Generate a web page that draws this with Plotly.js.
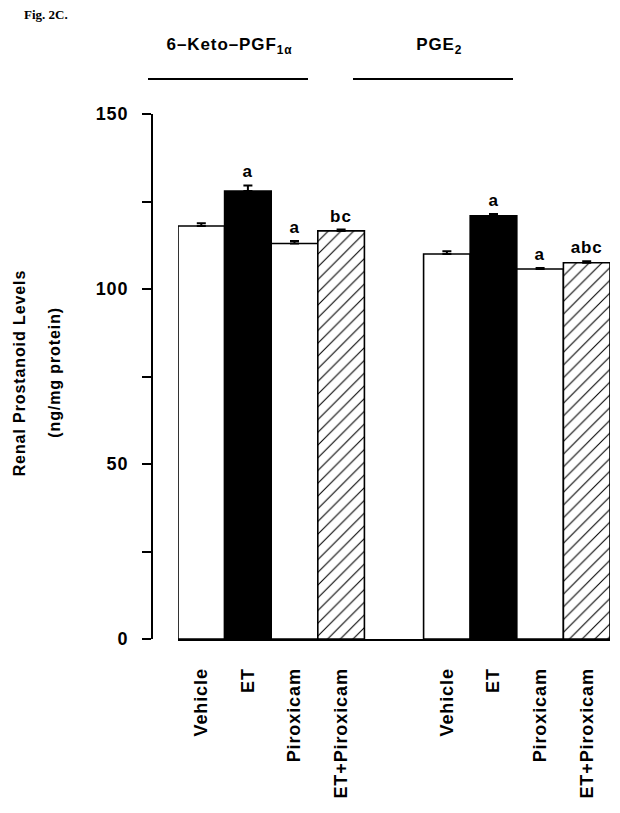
<!DOCTYPE html>
<html>
<head>
<meta charset="utf-8">
<script src="https://cdn.plot.ly/plotly-3.0.1.min.js"></script>
<style>
html,body{margin:0;padding:0;background:#fff;}
#chart{width:620px;height:813px;}
#chart svg text{letter-spacing:0.9px !important;}
#chart svg text.figlabel, #chart .figlabel text{letter-spacing:0 !important;}
</style>
</head>
<body>
<div id="chart"></div>
<script>
// ---- data ----
var groups = ["6\u2013Keto\u2013PGF<sub>1\u03b1</sub>", "PGE<sub>2</sub>"];
var treatments = ["Vehicle", "ET", "Piroxicam", "ET+Piroxicam"];
var ketoValues = [118.0, 128.0, 113.0, 116.6];
var ketoErrors = [0.8, 1.6, 0.7, 0.4];
var ketoLetters = ["", "a", "a", "bc"];
var pgeValues = [110.0, 120.9, 105.7, 107.5];
var pgeErrors = [0.8, 0.5, 0.3, 0.4];
var pgeLetters = ["", "a", "a", "abc"];
var yTicks = [0, 50, 100, 150];
var yMinorTicks = [25, 75, 125];

var FONT = "Liberation Sans, Arial, sans-serif";
var groupGap = 1.27;           // gap between the two groups, in bar widths
function xPos(g, i) { return i + g * (treatments.length + groupGap); }

var series = [
  {vals: ketoValues, errs: ketoErrors, letters: ketoLetters},
  {vals: pgeValues, errs: pgeErrors, letters: pgeLetters}
];
var fills = ["#ffffff", "#000000", "#ffffff", "#ffffff"];
var patterns = ["", "", "", "/"];

var traces = [];
var annotations = [];
var tickvals = [], ticktext = [];
series.forEach(function (s, g) {
  treatments.forEach(function (t, i) {
    var x = xPos(g, i);
    tickvals.push(x); ticktext.push("<b>" + t + "</b>");
    traces.push({
      type: "bar",
      x: [x], y: [s.vals[i]], width: 1,
      marker: {
        color: fills[i],
        line: {color: "#000", width: 1.6},
        pattern: patterns[i] ? {shape: patterns[i], fgcolor: "#000", bgcolor: "#fff", size: 9, solidity: 0.12} : undefined
      },
      error_y: {type: "data", symmetric: false, array: [s.errs[i]], arrayminus: [0], color: "#000", thickness: 2, width: 4.5},
      showlegend: false, hoverinfo: "skip"
    });
    if (s.letters[i]) {
      annotations.push({
        x: x, y: s.vals[i] + s.errs[i], xref: "x", yref: "y",
        text: "<b>" + s.letters[i] + "</b>", showarrow: false, yanchor: "bottom", yshift: 2,
        font: {family: FONT, size: 17, color: "#000"}
      });
    }
  });
});

// layout geometry (pixels)
var L = 140, R = 10, T = 114, B = 174, W = 620, H = 813;
var pw = W - L - R, ph = H - T - B;
function px(xp) { return (xp - L) / pw; }
function py(yp) { return (H - B - yp) / ph; }

// group headers
var headerSpans = [[148, 308, 230], [353, 513, 439]];
var shapes = [];
groups.forEach(function (gname, g) {
  var h = headerSpans[g];
  shapes.push({type: "line", xref: "paper", yref: "paper", x0: px(h[0]), x1: px(h[1]), y0: py(79), y1: py(79), line: {color: "#000", width: 2}});
  annotations.push({xref: "paper", yref: "paper", x: px(h[2]), y: py(46), text: "<b>" + gname + "</b>", showarrow: false,
    xanchor: "center", yanchor: "middle", font: {family: FONT, size: 17, color: "#000"}});
});

// y-axis titles
annotations.push({xref: "paper", yref: "paper", x: px(19), y: py(373), text: "<b>Renal Prostanoid Levels</b>", textangle: -90,
  showarrow: false, xanchor: "center", yanchor: "middle", font: {family: FONT, size: 16, color: "#000"}});
annotations.push({xref: "paper", yref: "paper", x: px(54), y: py(373), text: "<b>(ng/mg protein)</b>", textangle: -90,
  showarrow: false, xanchor: "center", yanchor: "middle", font: {family: FONT, size: 16, color: "#000"}});
// figure label
annotations.push({xref: "paper", yref: "paper", x: px(22), y: py(15), text: "<b>Fig. 2C.</b>", showarrow: false,
  xanchor: "left", yanchor: "middle", font: {family: "Liberation Serif, Times New Roman, serif", size: 13, color: "#000"}});

var layout = {
  width: W, height: H,
  margin: {l: L, r: R, t: T, b: B, pad: 0},
  paper_bgcolor: "#fff", plot_bgcolor: "rgba(0,0,0,0)",
  bargap: 0,
  xaxis: {
    domain: [px(178), 1],
    range: [-0.5, xPos(1, 3) + 0.5],
    tickvals: tickvals, ticktext: ticktext, tickangle: -90,
    ticks: "", showgrid: false, zeroline: false,
    showline: true, linecolor: "#000", linewidth: 2,
    ticklabelstandoff: 20,
    tickfont: {family: FONT, size: 18, color: "#000"}
  },
  yaxis: {
    anchor: "free", position: px(152),
    range: [0, 150], tickvals: yTicks, ticktext: yTicks.map(function (v) { return "<b>" + v + "</b>"; }),
    ticks: "outside", ticklen: 9, tickwidth: 2, tickcolor: "#000",
    minor: {tickvals: yMinorTicks, ticks: "outside", ticklen: 9, tickwidth: 2, tickcolor: "#000"},
    showgrid: false, zeroline: false,
    showline: true, linecolor: "#000", linewidth: 2,
    ticklabelstandoff: 10,
    tickfont: {family: FONT, size: 18, color: "#000"}
  },
  shapes: shapes,
  annotations: annotations
};

Plotly.newPlot("chart", traces, layout, {staticPlot: true, displayModeBar: false}).then(function () {
  var anns = document.querySelectorAll("#chart .annotation-text");
  anns.forEach(function (el) { if (el.textContent.indexOf("Fig.") === 0) { el.style.setProperty("letter-spacing", "0", "important"); } });
});
</script>
</body>
</html>
